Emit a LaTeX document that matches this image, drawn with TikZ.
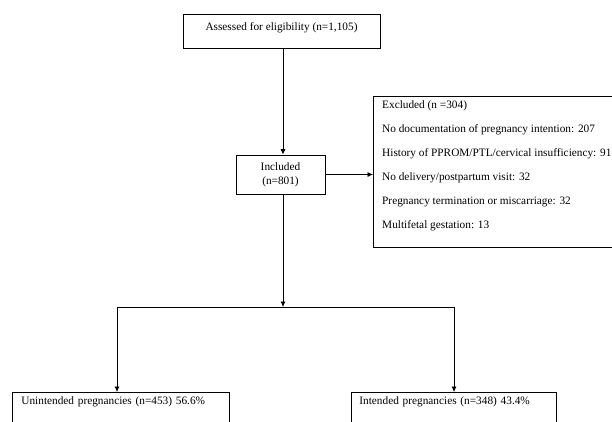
\documentclass[tikz,border=0pt]{standalone}
\usepackage{fontspec}
\setmainfont{Liberation Serif}
\usetikzlibrary{arrows.meta}

\begin{document}
\begin{tikzpicture}[x=1pt, y=-1pt, font=\fontsize{11.3}{14}\selectfont,
        flowbox/.style={draw, line width=0.8pt, rectangle, inner sep=0pt},
        flowarrow/.style={line width=0.7pt, -{Latex[length=5.5pt, width=5pt]}},
        flowline/.style={line width=0.7pt}] %flow chart
            \useasboundingbox[fill=white] (0,0) rectangle (612,421);
            \clip (0,0) rectangle (612,421);

            \node[flowbox, minimum width=197, minimum height=34, text depth=9pt] (assess) at (281.5,31) {Assessed for eligibility (n=1,105)};
            \node[flowbox, minimum width=89, minimum height=39, align=center] (incl) at (280.5,174.5) {Included\\(n=801)};

            \node[flowbox, anchor=north west, minimum width=260, minimum height=151] (excl) at (373,96) {};
            \node[anchor=north west, align=left, inner sep=0pt, font=\fontsize{11.3}{24}\selectfont] (excltxt) at ([shift={(9,4)}] excl.north west)
                {Excluded (n =304)\\
                 No documentation of pregnancy intention: 207\\
                 History of PPROM/PTL/cervical insufficiency: 91\\
                 No delivery/postpartum visit: 32\\
                 Pregnancy termination or miscarriage: 32\\
                 Multifetal gestation: 13};

            \node[flowbox, anchor=north west, text width=199pt, inner xsep=9pt, inner ysep=4pt, text depth=30pt, align=left] (unint) at (12,392) {Unintended pregnancies (n=453) 56.6\%};
            \node[flowbox, anchor=north west, text width=189pt, inner xsep=8pt, inner ysep=4pt, text depth=30pt, align=left] (intd) at (351,392) {Intended pregnancies (n=348) 43.4\%};

            \coordinate (split) at (283,307);
            \coordinate (lsplit) at (117,307);
            \coordinate (rsplit) at (454,307);

            \draw[flowarrow] (assess.south -| split) -- (incl.north -| split);
            \draw[flowarrow] (incl.east) -- (excl.west |- incl.east);
            \draw[flowarrow] (incl.south -| split) -- (split);
            \draw[flowline] (lsplit) -- (rsplit);
            \draw[flowarrow] (lsplit) -- (unint.north -| lsplit);
            \draw[flowarrow] (rsplit) -- (intd.north -| rsplit);
        \end{tikzpicture}
\end{document}
